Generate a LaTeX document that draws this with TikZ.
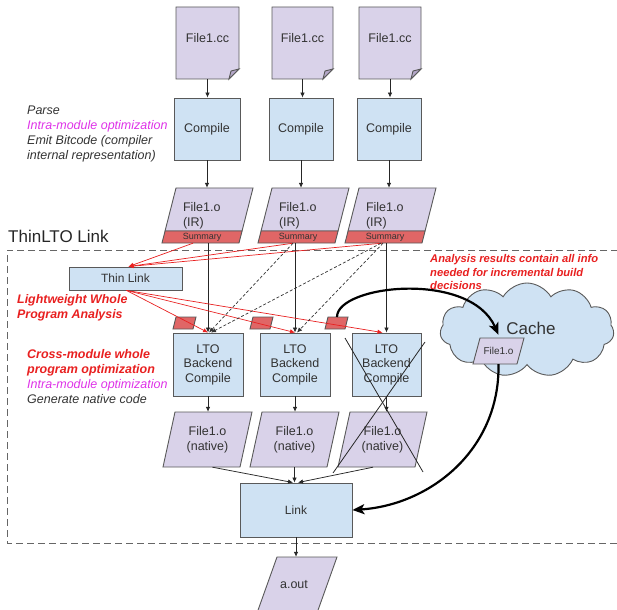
\documentclass[tikz,border=0pt]{standalone}
\usepackage{fontspec}
\setmainfont{Liberation Sans}
\usetikzlibrary{arrows.meta,shapes.symbols,calc}
\definecolor{purp}{HTML}{D9D2E9}
\definecolor{purpd}{HTML}{B4A7C8}
\definecolor{blu}{HTML}{CFE2F3}
\definecolor{redf}{HTML}{E06666}
\definecolor{bord}{HTML}{595959}
\definecolor{redt}{RGB}{232,32,32}
\definecolor{magt}{RGB}{222,50,232}
\definecolor{dkt}{HTML}{333333}
\newcommand\notebody[4]{%
  \draw[pgshape] (#1,#2) -- (#3,#2) -- (#3,{#4-10}) -- ({#3-10},#4) -- (#1,#4) -- cycle;
  \draw[pgshape, fill=purpd] (#3,{#4-10}) -- ({#3-10},#4) -- ({#3-8},{#4-8}) -- cycle;}
\newcommand\pgm[6]{%
  \draw[#1] (#2,#3) -- ++(#4,0) -- ++(#6,-#5) -- ++(-#4,0) -- cycle;}
\begin{document}
\begin{tikzpicture}[x=1pt,y=-1pt,
  font=\fontsize{12.5}{15}\selectfont,
  box/.style={draw=bord, fill=blu, line width=0.9pt, inner sep=0pt, align=center, text=dkt},
  lbl/.style={inner sep=0pt, align=center, text=dkt},
  pgshape/.style={draw=bord, fill=purp, line width=0.9pt, line join=miter},
  redshape/.style={draw=black!65, fill=redf, line width=0.9pt},
  arr/.style={-{Latex[length=5pt,width=4.5pt]}, line width=0.75pt, draw=black!85},
  redarr/.style={-{Latex[length=5pt,width=4.5pt]}, line width=0.7pt, draw=redt},
  dasharr/.style={-{Latex[length=5pt,width=4.5pt]}, line width=0.7pt, dash pattern=on 3pt off 2pt, draw=black!80},
  bigarr/.style={-{Stealth[length=12pt,width=10pt,inset=3pt]}, line width=2.2pt},
  framedash/.style={draw=black!60, line width=1pt, dash pattern=on 7pt off 4pt},
  cloudshape/.style={cloud, cloud puffs=11, cloud puff arc=120, aspect=1.9, cloud ignores aspect, draw=bord, fill=blu, line width=0.9pt, minimum width=174pt, minimum height=94pt, inner sep=0pt},
  ital/.style={inner sep=0pt, align=left, anchor=west, text=dkt, font=\fontsize{12.5}{15}\selectfont\itshape},
]
\clip (0,0) rectangle (617,609);
% frame
\draw[framedash] (640,250) -- (7,250) -- (7,543) -- (640,543);
% cloud
\node[cloudshape] (cl) at (527,330) {};
% source notes
\notebody{176}{7}{239}{79}
\notebody{272}{7}{333}{79}
\notebody{359}{7}{421}{79}
% IR parallelograms with summary bands
\pgm{pgshape}{165.05}{231}{77}{43}{10.95}
\pgm{redshape}{162}{243}{77}{12}{3.05}
\pgm{pgshape}{261.05}{231}{77}{43}{10.95}
\pgm{redshape}{258}{243}{77}{12}{3.05}
\pgm{pgshape}{348.05}{231}{77}{43}{10.95}
\pgm{redshape}{345}{243}{77}{12}{3.05}
% native objects
\pgm{pgshape}{163}{467}{77}{55}{12}
\pgm{pgshape}{250}{467}{77}{55}{12}
\pgm{pgshape}{338}{467}{77}{55}{12}
% a.out
\pgm{pgshape}{257}{613}{60}{56}{20}
% small summaries
\pgm{redshape}{173}{329}{20}{12}{3}
\pgm{redshape}{250}{329}{20}{12}{3}
\pgm{redshape}{325}{329}{20}{12}{3}
\coordinate (r3) at (337,317);
% cached object
\pgm{pgshape}{473}{364}{44}{26}{7}

% nodes
\node[lbl, minimum width=63pt, minimum height=72pt, text depth=10pt] (f1) at (207.5,43) {File1.cc};
\node[lbl, minimum width=61pt, minimum height=72pt, text depth=10pt] (f2) at (302.5,43) {File1.cc};
\node[lbl, minimum width=62pt, minimum height=72pt, text depth=10pt] (f3) at (390,43) {File1.cc};

\node[box, minimum width=66pt, minimum height=62pt] (c1) at (207,129) {Compile};
\node[box, minimum width=64pt, minimum height=62pt] (c2) at (301,129) {Compile};
\node[box, minimum width=64pt, minimum height=62pt] (c3) at (389,129) {Compile};

\node[lbl, minimum width=77pt, minimum height=55pt, text width=52pt, align=left] (ir1) at (209,215.5) {File1.o\\(IR)};
\node[lbl, minimum width=77pt, minimum height=55pt, text width=52pt, align=left] (ir2) at (305,215.5) {File1.o\\(IR)};
\node[lbl, minimum width=77pt, minimum height=55pt, text width=52pt, align=left] (ir3) at (392,215.5) {File1.o\\(IR)};
\node[lbl, minimum width=77pt, minimum height=12pt, font=\fontsize{9}{10}\selectfont] (s1) at (202,237) {Summary};
\node[lbl, minimum width=77pt, minimum height=12pt, font=\fontsize{9}{10}\selectfont] (s2) at (298,237) {Summary};
\node[lbl, minimum width=77pt, minimum height=12pt, font=\fontsize{9}{10}\selectfont] (s3) at (385,237) {Summary};

\node[box, minimum width=113pt, minimum height=23pt, font=\fontsize{12}{14}\selectfont] (tl) at (125.5,278.5) {Thin Link};

\node[box, minimum width=70pt, minimum height=63pt, font=\fontsize{12.5}{14.5}\selectfont] (l1) at (208,364.5) {LTO\\Backend\\Compile};
\node[box, minimum width=70pt, minimum height=63pt, font=\fontsize{12.5}{14.5}\selectfont] (l2) at (295,364.5) {LTO\\Backend\\Compile};
\node[box, minimum width=69pt, minimum height=63pt, font=\fontsize{12.5}{14.5}\selectfont] (l3) at (386.5,364.5) {LTO\\Backend\\Compile};

\node[lbl, minimum width=77pt, minimum height=55pt] (n1) at (207.5,439.5) {File1.o\\(native)};
\node[lbl, minimum width=77pt, minimum height=55pt] (n2) at (294.5,439.5) {File1.o\\(native)};
\node[lbl, minimum width=77pt, minimum height=55pt] (n3) at (382.5,439.5) {File1.o\\(native)};

\node[box, minimum width=112pt, minimum height=54pt, font=\fontsize{12}{14}\selectfont] (lk) at (296,510) {Link};
\node[lbl, minimum width=60pt, minimum height=56pt] (ao) at (294,585) {a.out};

\node[lbl, minimum width=44pt, minimum height=26pt, font=\fontsize{10}{12}\selectfont] (cf) at (498.5,351) {File1.o};
\node[lbl, font=\fontsize{17}{20}\selectfont] (ct) at (531,328) {Cache};

% text annotations
\node[inner sep=0pt, anchor=west, text=black!85, font=\fontsize{17}{20}\selectfont] (t0) at (8,236) {ThinLTO Link};
\node[ital] (t1) at (27,134) {Parse\\{\color{magt}Intra-module optimization}\\Emit Bitcode (compiler\\internal representation)};
\node[ital, text=redt, font=\fontsize{12.4}{15}\selectfont\bfseries\itshape] (t2) at (17,308) {Lightweight Whole\\Program Analysis};
\node[ital] (t3) at (27,376.5) {{\bfseries\color{redt}Cross-module whole}\\{\bfseries\color{redt}program optimization}\\{\color{magt}Intra-module optimization}\\Generate native code};
\node[ital, text=redt, font=\fontsize{11.2}{13.5}\selectfont\bfseries\itshape] (t4) at (430,272) {Analysis results contain all info\\needed for incremental build\\decisions};

% connectors
\foreach \i in {1,2,3} {
  \draw[arr] (f\i.south) -- (f\i.south |- c\i.north);
  \draw[arr] (c\i.south) -- (c\i.south |- ir\i.north);
  \draw[arr] (l\i.north |- s\i.south) -- (l\i.north);
  \draw[arr] (l\i.south) -- (l\i.south |- n\i.north);
}
% summaries to thin link
\draw[redarr] ([xshift=-9pt]s1.south) -- ([xshift=3pt]tl.north);
\draw[redarr] ([xshift=-5pt]s2.south) -- ([xshift=3pt]tl.north);
\draw[redarr] ([xshift=-3pt]s3.south) -- ([xshift=3pt]tl.north);
% thin link to backends
\draw[redarr] ([xshift=1pt]tl.south) -- (l1.north);
\draw[redarr] ([xshift=1pt]tl.south) -- (l2.north);
\draw[redarr] ([xshift=1pt]tl.south) -- ([xshift=-4pt]l3.north);
% imports (dashed)
\draw[dasharr] ([xshift=-5pt]s2.south) -- ([xshift=1pt]l1.north);
\draw[dasharr] ([xshift=-4pt]s3.south) -- ([xshift=3pt]l1.north);
\draw[dasharr] ([xshift=-2pt]s3.south) -- ([xshift=2pt]l2.north);
% natives to link
\draw[arr] ([xshift=5pt]n1.south) -- ([xshift=-3pt]lk.north);
\draw[arr] (n2.south) -- (n2.south |- lk.north);
\draw[arr] ([xshift=-9.5pt]n3.south) -- ([xshift=2pt]lk.north);
\draw[arr] (lk.south) -- (lk.south |- ao.north);
% cross-out
\draw[line width=0.8pt, black!85] (345,338) -- (423,472);
\draw[line width=0.8pt, black!85] (425,342) -- (333,473);
% cache curves
\draw[bigarr] (r3) .. controls (337,285) and (470,270) .. ([yshift=3pt]cf.north);
\draw[bigarr] (cf.south) .. controls (500,450) and (430,505) .. (lk.east);
\end{tikzpicture}
\end{document}
